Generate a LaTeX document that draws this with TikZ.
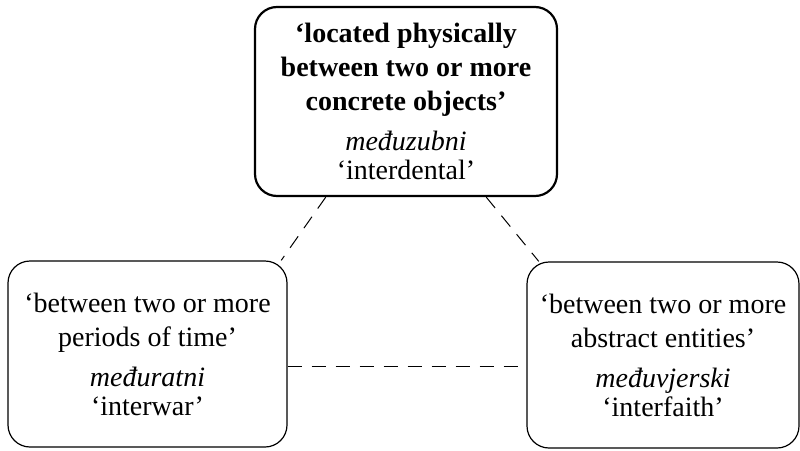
\documentclass[tikz,border=0pt]{standalone}
\usepackage{fontspec}
\setmainfont{Liberation Serif}
\begin{document}
\begin{tikzpicture}[x=1pt,y=1pt,
  sensebox/.style={draw, rounded corners=22pt, align=center, inner sep=0pt,
    font=\fontsize{28}{34}\selectfont, line width=1.2pt},
  mainbox/.style={sensebox, line width=2.2pt},
  link/.style={line width=1pt, dash pattern=on 14pt off 10pt}]
\useasboundingbox (0,0) rectangle (800,-450);
% core sense
\node[mainbox, minimum width=302pt, minimum height=189pt] (top) at (406,-101.5)
  {\textbf{‘located physically}\\ \textbf{between two or more}\\ \textbf{concrete objects’}\\[6pt]
   \textit{međuzubni}\\[-5pt] ‘interdental’};
% temporal sense
\node[sensebox, minimum width=279pt, minimum height=186pt] (left) at (147.5,-354)
  {‘between two or more\\ periods of time’\\[6pt] \textit{međuratni}\\[-5pt] ‘interwar’};
% abstract sense
\node[sensebox, minimum width=272pt, minimum height=186pt] (right) at (663,-355)
  {‘between two or more\\ abstract entities’\\[6pt] \textit{međuvjerski}\\[-5pt] ‘interfaith’};
% links between the senses
\draw[link] (top.230.5) -- (left.35.7);
\draw[link] (top.310.4) -- (right.143.5);
\draw[link] (left.-5.7) -- (left.-5.7 -| right.west);
\end{tikzpicture}
\end{document}
